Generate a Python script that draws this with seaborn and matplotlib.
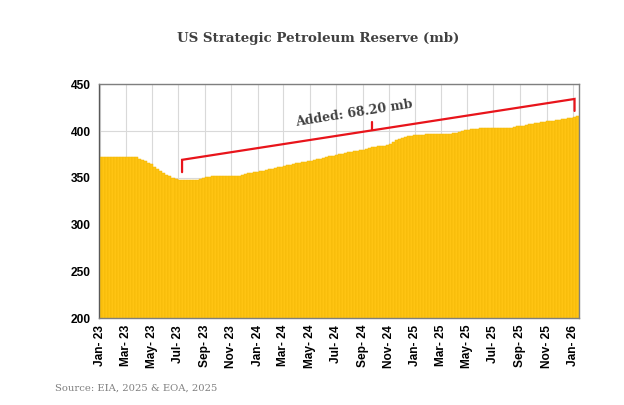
import numpy as np
import pandas as pd
import matplotlib
matplotlib.use("Agg")
import matplotlib.pyplot as plt
import seaborn as sns

# weekly SPR inventory (mb), first bar = week of 2 Jan 2023
first_week = "2023-01-02"
spr_level = [
    372.3, 372.3, 372.4, 372.4, 372.4, 372.5, 372.5, 372.5, 372.5, 372.5,
    372.5, 372.4, 372.2, 370.6, 369.4, 368.0, 366.1, 364.2, 361.6, 359.2,
    356.8, 354.7, 353.0, 351.6, 350.2, 348.9, 348.0, 347.6, 347.5, 347.5,
    347.6, 347.7, 348.0, 348.7, 349.4, 350.4, 351.0, 351.4, 351.7, 351.8,
    351.9, 351.8, 351.8, 351.7, 351.8, 351.9, 352.3, 352.9, 353.7, 354.6,
    355.3, 355.9, 356.6, 357.2, 357.7, 358.3, 359.1, 359.9, 360.5, 361.1,
    361.8, 362.5, 363.3, 364.0, 364.6, 365.3, 365.9, 366.5, 367.1, 367.8,
    368.4, 369.1, 369.6, 370.4, 371.3, 372.2, 373.0, 373.8, 374.7, 375.3,
    375.8, 376.5, 377.2, 377.7, 378.3, 378.9, 379.5, 380.2, 380.7, 381.5,
    382.6, 383.3, 383.6, 383.9, 384.3, 385.2, 386.4, 388.0, 390.2, 391.8,
    393.0, 393.9, 394.6, 395.2, 395.7, 396.0, 396.1, 396.2, 396.4, 396.5,
    396.5, 396.6, 396.7, 396.8, 396.8, 396.8, 397.0, 397.5, 398.2, 399.0,
    399.8, 400.6, 401.3, 401.9, 402.3, 402.7, 403.0, 403.3, 403.5, 403.6,
    403.7, 403.6, 403.4, 403.2, 403.0, 403.2, 403.7, 404.3, 404.9, 405.3,
    405.8, 406.4, 407.0, 407.6, 408.2, 408.7, 409.2, 409.7, 410.2, 410.7,
    411.2, 411.7, 412.2, 412.6, 413.0, 413.4, 413.8, 414.6, 415.7,
]

tick_labels = [
    "Jan- 23", "Mar- 23", "May- 23", "Jul- 23", "Sep- 23", "Nov- 23",
    "Jan- 24", "Mar- 24", "May- 24", "Jul- 24", "Sep- 24", "Nov- 24",
    "Jan- 25", "Mar- 25", "May- 25", "Jul- 25", "Sep- 25", "Nov- 25",
    "Jan- 26",
]

title = "US Strategic Petroleum Reserve (mb)"
source = "Source: EIA, 2025 & EOA, 2025"

df = pd.DataFrame({"week": np.arange(len(spr_level)), "level": spr_level})

sns.set_style("white")
plt.rcParams["font.family"] = ["Liberation Sans", "DejaVu Sans"]

fig = plt.figure(figsize=(6.24, 4.05), dpi=100)
ax = fig.add_axes([0.1587, 0.2148, 0.7693, 0.5771])

sns.barplot(data=df, x="week", y="level", native_scale=True, color="#FFC412",
            saturation=1, width=1.0, errorbar=None, edgecolor="#F2B705",
            linewidth=0.35, ax=ax)

ax.set_xlim(-0.5, len(spr_level) - 0.5)
ax.set_ylim(200, 450)
ax.set_yticks(np.arange(200, 451, 50))

# month ticks placed on the weekly index
start = pd.Timestamp(first_week)
tick_pos = [(pd.to_datetime(t, format="%b- %y") - start).days / 7 for t in tick_labels]
ax.set_xticks(tick_pos)
ax.set_xticklabels(tick_labels, rotation=90)
ax.set_xlabel("")
ax.set_ylabel("")

ax.set_axisbelow(True)
ax.grid(True, color="#d9d9d9", linewidth=0.8)
for s in ax.spines.values():
    s.set_color("#7f7f7f")
    s.set_linewidth(1)
ax.spines["left"].set_color("#595959")

ax.tick_params(axis="both", labelsize=8.6, labelcolor="#000000", color="#7f7f7f",
               width=0.8, direction="out")
ax.tick_params(axis="y", length=3, pad=3)
ax.tick_params(axis="x", length=0, pad=5)
for lab in ax.get_xticklabels() + ax.get_yticklabels():
    lab.set_fontweight("bold")

# bracket from the low point to the latest week
i_min = int(np.argmin(spr_level))
i_end = len(spr_level) - 2
y0 = spr_level[i_min] + 21.7
y1 = spr_level[-1] + 18.6
red = "#e8141b"
ax.plot([i_min - 1, i_min - 1, i_end, i_end],
        [spr_level[i_min] + 8.5, y0, y1, spr_level[-1] + 5.8],
        color=red, linewidth=1.6, solid_joinstyle="miter")
i_mid = 90
y_mid = y0 + (y1 - y0) * (i_mid - (i_min - 1)) / (i_end - (i_min - 1))
ax.plot([i_mid, i_mid], [y_mid, y_mid + 9], color=red, linewidth=1.6)
added = spr_level[-1] - spr_level[i_min]
ax.text(84, 419.5, f"Added: {added:.2f} mb", rotation=9, ha="center", va="center",
        fontsize=9, fontweight="bold", color="#404040", family="DejaVu Serif")

fig.text(0.51, 0.906, title, ha="center", va="center", fontsize=9.6,
         fontweight="bold", color="#404040", family="DejaVu Serif")
fig.text(0.088, 0.042, source, ha="left", va="center", fontsize=7.2,
         color="#7f7f7f", family="DejaVu Serif")

fig.savefig("out.png", dpi=100)
